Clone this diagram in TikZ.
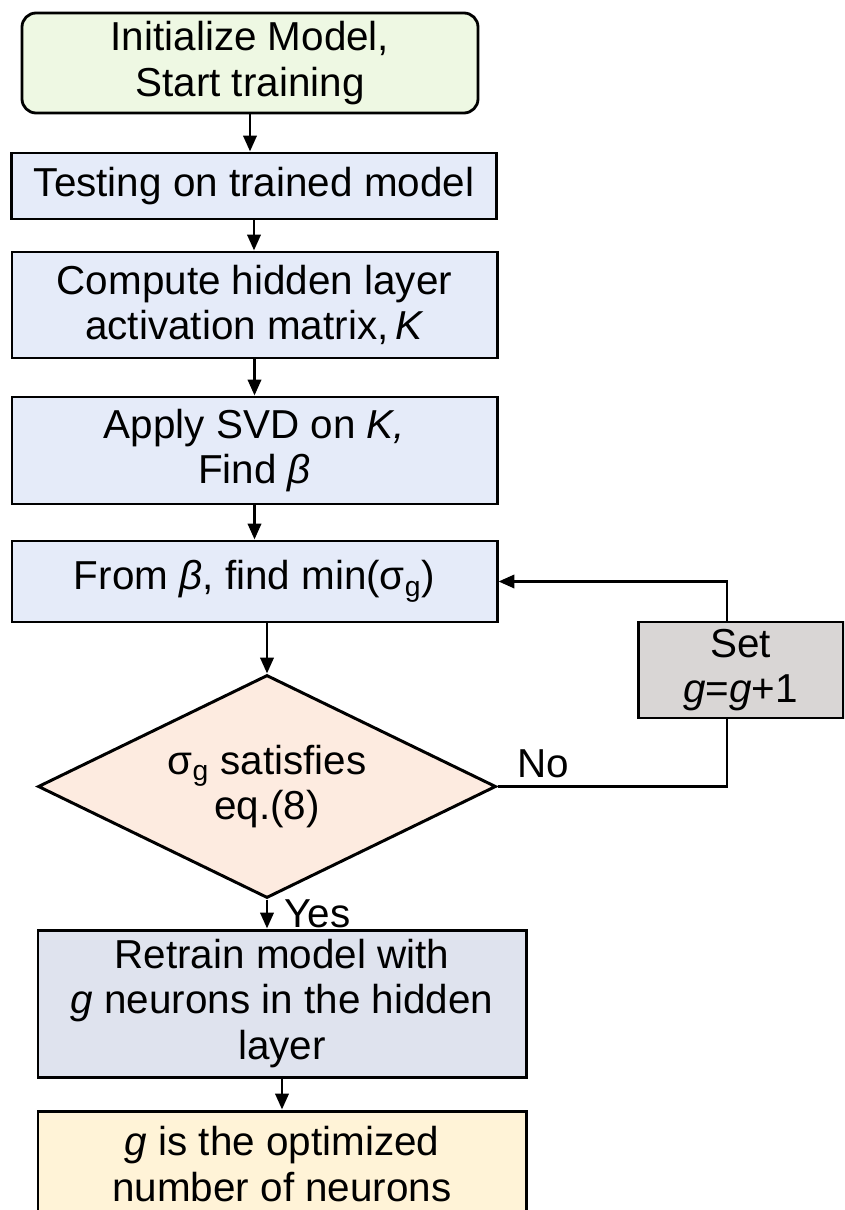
\documentclass[tikz,border=0pt]{standalone}
\usepackage{fontspec}
\setmainfont{Liberation Sans}
\usepackage{tikz}
\usetikzlibrary{shapes.geometric, arrows.meta, positioning, calc}
\definecolor{StartGreen}{HTML}{EEF8E3}
\definecolor{ProcessBlue}{HTML}{E5EBF9}
\definecolor{DecisionPeach}{HTML}{FDEBE0}
\definecolor{UpdateGrey}{HTML}{D9D6D5}
\definecolor{RetrainGrey}{HTML}{DFE3EE}
\definecolor{EndYellow}{HTML}{FFF3D7}
\tikzset{
  % Box styles
  startbox/.style={rectangle, rounded corners=8pt, draw=black, line width=1.6pt, fill=StartGreen, minimum width=9.12cm, minimum height=2cm, align=center, inner sep=2pt},
  processbox/.style={rectangle, draw=black, line width=1.7pt, fill=ProcessBlue, minimum width=9.7cm, align=center, inner sep=2pt},
  decisionbox/.style={diamond, draw=black, line width=1.7pt, fill=DecisionPeach, minimum width=9.16cm, minimum height=4.46cm, aspect=2, inner sep=0pt, align=center},
  updatebox/.style={rectangle, draw=black, line width=1.7pt, fill=UpdateGrey, minimum width=4.1cm, minimum height=1.92cm, align=center, inner sep=2pt},
  retrainbox/.style={rectangle, draw=black, line width=1.7pt, fill=RetrainGrey, minimum width=9.76cm, minimum height=2.94cm, align=center, inner sep=2pt},
  endbox/.style={rectangle, draw=black, line width=1.7pt, fill=EndYellow, minimum width=9.76cm, minimum height=2.12cm, align=center, inner sep=2pt},
  % Arrow styles
  arrow/.style={-{Triangle[length=9pt, width=7.5pt]}, line width=1.6pt, black},
  plainline/.style={line width=1.6pt, black}
}

\begin{document}
\begin{tikzpicture}[font=\fontsize{23}{26}\selectfont]
  \path[use as bounding box, clip] (0,0) rectangle (16.88,-24.2);

  % Main flow
  \node[startbox] (init) at (5.0,-1.26) {Initialize Model,\\Start training};
  \node[processbox, minimum height=1.32cm] (test) at (5.08,-3.72) {Testing on trained model};
  \node[processbox, minimum height=2.12cm] (hidden) at (5.09,-6.10) {Compute hidden layer\\activation matrix,\,\textit{K}};
  \node[processbox, minimum height=2.14cm] (svd) at (5.09,-9.01) {Apply SVD on \textit{K,}\\Find \textit{β}};
  \node[processbox, minimum height=1.62cm] (beta) at (5.09,-11.63) {From \textit{β}, find min(σ\textsubscript{g})};
  \node[decisionbox] (check) at (5.34,-15.73) {σ\textsubscript{g} satisfies\\eq.(8)};
  \node[updatebox] (update) at (14.81,-13.40) {Set\\\textit{g}=\textit{g}+1};
  \node[retrainbox] (retrain) at (5.64,-20.07) {Retrain model with\\\textit{g} neurons in the hidden\\layer};
  \node[endbox] (final) at (5.64,-23.28) {\textit{g} is the optimized\\number of neurons};

  % Arrows
  \draw[arrow] (init.south) -- (init.south |- test.north);
  \draw[arrow] (test.south) -- (test.south |- hidden.north);
  \draw[arrow] (hidden.south) -- (hidden.south |- svd.north);
  \draw[arrow] (svd.south) -- (svd.south |- beta.north);
  \draw[arrow] (check.north |- beta.south) -- (check.north);
  \draw[arrow] (check.south) -- node[right, xshift=0.2cm] {Yes} (check.south |- retrain.north);
  \draw[arrow] (retrain.south) -- (retrain.south |- final.north);

  % Loop back
  \coordinate (loop) at (14.54,-15.73);
  \draw[plainline] (check.east) -- node[above, pos=0.2, inner sep=4pt] {No} (loop) -- (loop |- update.south);
  \draw[arrow] (loop |- update.north) |- (beta.east);
\end{tikzpicture}
\end{document}
